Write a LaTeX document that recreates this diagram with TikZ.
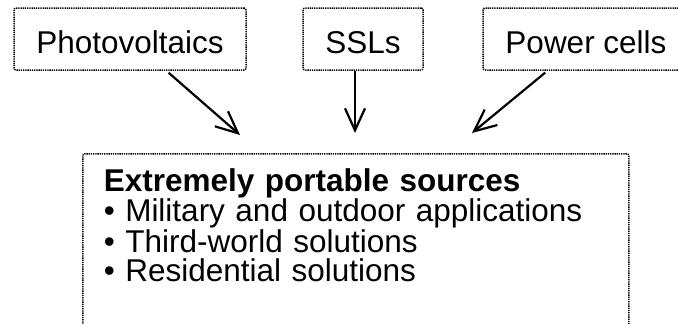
\documentclass[tikz,border=0pt]{standalone}
\usepackage{fontspec}
\setmainfont{Liberation Sans}
\usetikzlibrary{arrows.meta,positioning}
\lineskiplimit=-20pt

\begin{document}
\begin{tikzpicture}[x=1pt,y=-1pt,->,>={Straight Barb[length=22pt,width=20pt]},line width=2.2pt]
\tikzstyle{every node}=[font=\fontsize{31.5}{29}\selectfont]
\tikzstyle{dotline}=[draw,dash pattern=on 1.3pt off 0.9pt,line width=1.5pt,rounded corners=2pt]
\tikzstyle{srcbox}=[dotline,minimum height=62pt,text height=29pt,text depth=0pt,inner sep=0pt]
\tikzstyle{sinkbox}=[dotline,anchor=north west,text width=504pt,inner xsep=21pt,inner ysep=15pt,text depth=150pt,align=left]
\useasboundingbox (0,0) rectangle (678,324);

\node [srcbox,minimum width=232pt] (photo) at (130,39) {Photovoltaics};
\node [srcbox,minimum width=120pt] (ssl) at (363,39) {SSLs};
\node [srcbox,minimum width=206pt] (power) at (586,39) {Power cells};

\node [sinkbox] (main) at (82,153) {\textbf{Extremely portable sources}\\
  • Military and outdoor applications\\
  • Third-world solutions\\
  • Residential solutions};

\coordinate (pvtip) at (240,135);
\coordinate (ssltip) at (355,133);
\coordinate (pctip) at (472,133);

\path (photo) edge [shorten <=3pt] (pvtip)
      (ssl.south -| ssltip) edge (ssltip)
      (power) edge [shorten <=3pt] (pctip);

\end{tikzpicture}
\end{document}
